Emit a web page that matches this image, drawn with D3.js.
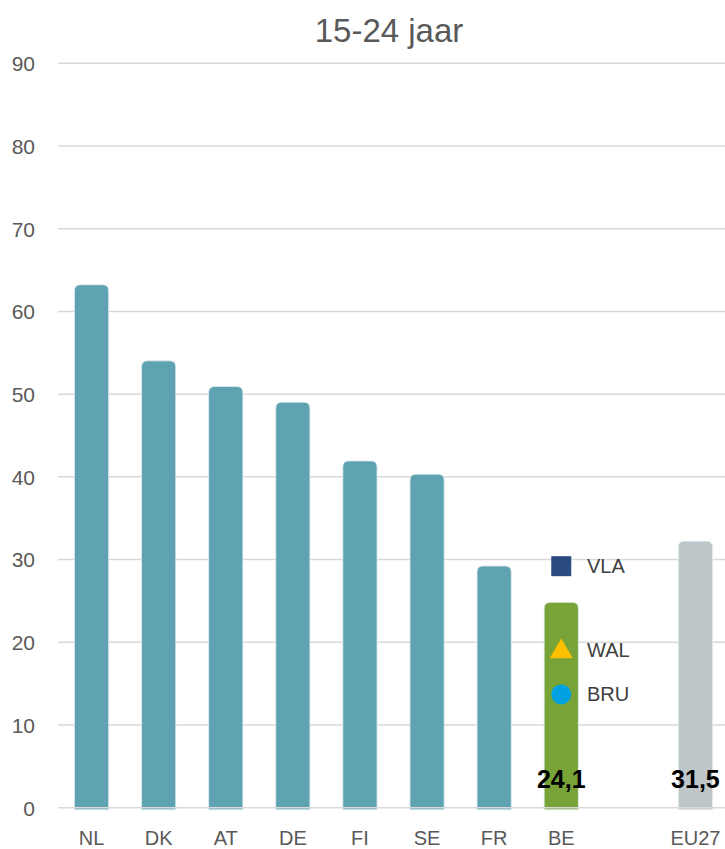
<!DOCTYPE html>
<html><head><meta charset="utf-8">
<script src="https://cdn.jsdelivr.net/npm/d3@7"></script>
<style>body{margin:0;background:#fff}svg{display:block}</style>
</head><body><svg id="c" width="725" height="849"></svg>
<script>
const title = "15-24 jaar";
const categories = ["NL","DK","AT","DE","FI","SE","FR","BE","gap","EU27"];
const values = [62.5,53.3,50.2,48.3,41.2,39.6,28.5,24.1,null,31.5];
const barGroups = ["eu","eu","eu","eu","eu","eu","eu","be",null,"eu27"];
const labelled = ["BE","EU27"];
const yTicks = [0,10,20,30,40,50,60,70,80,90];
const regions = ["VLA","WAL","BRU"];
const regionValues = [29.2,19.1,13.7];
const regionSymbols = ["square","triangle","circle"];

const colors = {eu:"#5fa3b3", be:"#78a337", eu27:"#bfc6ca"};
const regionColors = {VLA:"#2b4a80", WAL:"#ffc000", BRU:"#00a1e0"};
const font = "'Liberation Sans', Arial, sans-serif";

const svg = d3.select("#c");
const x = d3.scaleBand().domain(categories).range([58, 729]).paddingInner(0.49).paddingOuter(0.245);
const y = d3.scaleLinear().domain([0,90]).range([807.7, 63.3]);

svg.append("text").attr("x",389).attr("y",42).attr("text-anchor","middle")
  .attr("font-family",font).attr("font-size",33).attr("fill","#595959").text(title);

// gridlines
const grid = svg.append("g");
grid.selectAll("line").data(yTicks.filter(d=>d>0)).join("line")
  .attr("x1",58).attr("x2",725).attr("y1",d=>y(d)).attr("y2",d=>y(d))
  .attr("stroke","#d9d9d9").attr("stroke-width",1.5);

// y axis labels
const yAxis = d3.axisLeft(y).tickValues(yTicks).tickSize(0).tickPadding(0).tickFormat(d3.format("d"));
const ga = svg.append("g").attr("transform","translate(35,0)").call(yAxis);
ga.select(".domain").remove();
ga.selectAll("text").attr("font-family",font).attr("font-size",21).attr("fill","#595959").attr("dy","0.35em");

// bars
const data = categories.map((c,i)=>({c, v:values[i], g:barGroups[i]})).filter(d=>d.v!=null);
const r = 6;
function barPath(d){
  const x0 = x(d.c), w = x.bandwidth(), yt = y(d.v) - r, yb = y(0) + 2;
  return `M${x0},${yb}V${yt+r}Q${x0},${yt} ${x0+r},${yt}H${x0+w-r}Q${x0+w},${yt} ${x0+w},${yt+r}V${yb}Z`;
}
svg.append("g").selectAll("path").data(data).join("path")
  .attr("d",barPath).attr("fill",d=>colors[d.g]).attr("stroke","#e3eef0").attr("stroke-width",0.8);

// zero line over bars
svg.append("line").attr("x1",58).attr("x2",725).attr("y1",y(0)).attr("y2",y(0))
  .attr("stroke","#d9d9d9").attr("stroke-width",1.5);

// value labels
svg.append("g").selectAll("text").data(data.filter(d=>labelled.includes(d.c))).join("text")
  .attr("x",d=>x(d.c)+x.bandwidth()/2).attr("y",788).attr("text-anchor","middle")
  .attr("font-family",font).attr("font-weight","bold").attr("font-size",25).attr("fill","#000")
  .text(d=>d3.format(".1f")(d.v).replace(".",","));

// category labels
svg.append("g").selectAll("text").data(categories.filter(c=>c!=="gap")).join("text")
  .attr("x",c=>x(c)+x.bandwidth()/2).attr("y",845).attr("text-anchor","middle")
  .attr("font-family",font).attr("font-size",20).attr("fill","#595959").text(c=>c);

// region markers on BE
const cx = x("BE") + x.bandwidth()/2;
const symMap = {square:d3.symbolSquare, triangle:d3.symbolTriangle, circle:d3.symbolCircle};
const symSize = {square:400, triangle:230, circle:314};
const rg = svg.append("g");
regions.forEach((name,i)=>{
  const t = regionSymbols[i];
  const yy = y(regionValues[i]);
  rg.append("path").attr("d",d3.symbol(symMap[t], symSize[t])())
    .attr("transform",`translate(${cx},${yy + (t==="triangle"?2:0)})`)
    .attr("fill",regionColors[name]);
  rg.append("text").attr("x",587).attr("y",yy).attr("dy","0.35em")
    .attr("font-family",font).attr("font-size",20).attr("fill","#404040").text(name);
});
</script></body></html>
